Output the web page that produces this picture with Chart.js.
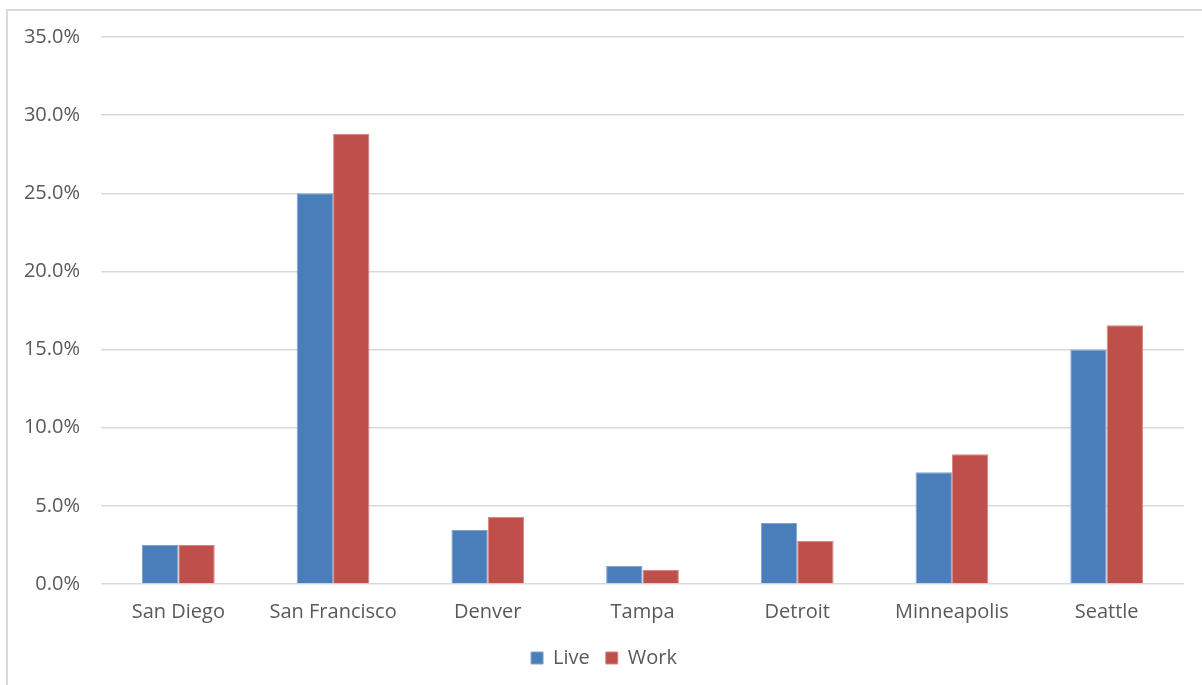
<!DOCTYPE html>
<html>
<head>
<meta charset="utf-8">
<script src="https://cdn.jsdelivr.net/npm/chart.js@4/dist/chart.umd.min.js"></script>
<style>
  html, body { margin: 0; padding: 0; background: #fff; overflow: hidden; }
  #frame { position: absolute; left: 6px; top: 9px; width: 1220px; height: 700px; border: 2px solid #d9d9d9; }
  #wrap { position: absolute; left: 0; top: 0; width: 1202px; height: 685px; }
</style>
</head>
<body>
<div id="frame"></div>
<div id="wrap"><canvas id="chart"></canvas></div>
<script>
// data
const cities = ['San Diego', 'San Francisco', 'Denver', 'Tampa', 'Detroit', 'Minneapolis', 'Seattle'];
const live = [2.5, 25.0, 3.45, 1.15, 3.9, 7.15, 15.0];
const work = [2.5, 28.8, 4.3, 0.9, 2.75, 8.3, 16.55];

const textColor = '#595959';
const fontFamily = '"Open Sans", "Liberation Sans", sans-serif';

new Chart(document.getElementById('chart'), {
    type: 'bar',
    data: {
        labels: cities,
        datasets: [
            {
                label: 'Live',
                data: live,
                backgroundColor: '#4a7ebb',
                borderColor: '#7fa3cf',
                borderWidth: 1
            },
            {
                label: 'Work',
                data: work,
                backgroundColor: '#be4f4a',
                borderColor: '#d48783',
                borderWidth: 1
            }
        ]
    },
    options: {
        responsive: true,
        maintainAspectRatio: false,
        animation: false,
        layout: {
            padding: {left: 24, right: 18, top: 37, bottom: 7}
        },
        datasets: {
            bar: {categoryPercentage: 0.47, barPercentage: 1.0}
        },
        scales: {
            x: {
                grid: {display: false},
                border: {display: false},
                ticks: {
                    color: textColor,
                    font: {family: fontFamily, size: 20},
                    padding: 8,
                    maxRotation: 0
                }
            },
            y: {
                min: 0,
                max: 35,
                border: {display: false},
                grid: {
                    color: '#d9d9d9',
                    lineWidth: 1.5,
                    drawTicks: false
                },
                ticks: {
                    stepSize: 5,
                    color: textColor,
                    font: {family: fontFamily, size: 20},
                    padding: 21,
                    callback: (v) => v.toFixed(1) + '%'
                },
                afterFit: (scale) => { scale.width = 77; }
            }
        },
        plugins: {
            tooltip: {enabled: false},
            legend: {
                position: 'bottom',
                labels: {
                    color: textColor,
                    font: {family: fontFamily, size: 20},
                    boxWidth: 12,
                    boxHeight: 12,
                    padding: 16
                }
            }
        }
    }
});
</script>
</body>
</html>
